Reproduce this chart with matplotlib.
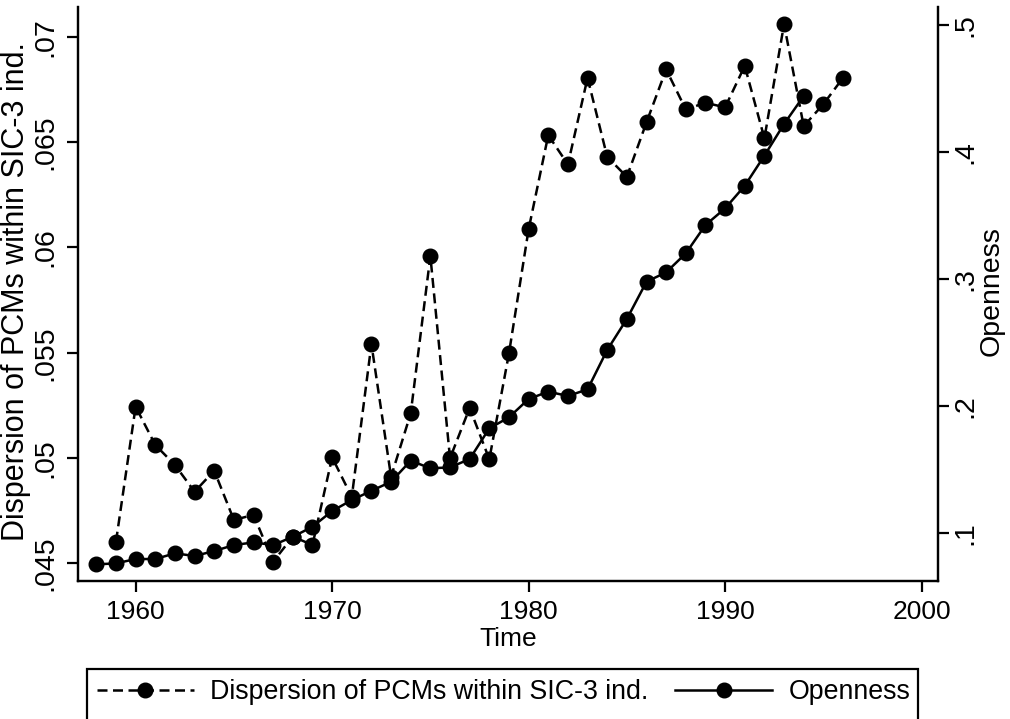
import matplotlib
matplotlib.use("Agg")
import matplotlib.pyplot as plt
from matplotlib.patches import Rectangle

plt.rcParams['font.family'] = ['Liberation Sans', 'DejaVu Sans']

# dispersion of PCMs (left axis), 1959-1996
disp_years = list(range(1959, 1997))
dispersion = [0.04603, 0.05244, 0.05062, 0.04967, 0.0484, 0.0494, 0.04706, 0.0473,
              0.04508, 0.04627, 0.04587, 0.05003, 0.04815, 0.05541, 0.04911, 0.05212,
              0.05959, 0.04999, 0.05238, 0.04994, 0.05497, 0.06086, 0.06533, 0.06394,
              0.06805, 0.0643, 0.06335, 0.06594, 0.06845, 0.06655, 0.06687, 0.06665,
              0.06862, 0.06518, 0.0706, 0.06576, 0.0668, 0.06805]

# openness (right axis), 1958-1994
open_years = list(range(1958, 1995))
openness = [0.0756, 0.0764, 0.0798, 0.0798, 0.0843, 0.0822, 0.0861, 0.0908,
            0.0929, 0.0908, 0.0973, 0.1052, 0.1176, 0.1262, 0.1335, 0.1406,
            0.1572, 0.1512, 0.1519, 0.1585, 0.1826, 0.1913, 0.2057, 0.2115,
            0.2081, 0.2133, 0.2443, 0.2687, 0.2980, 0.3054, 0.3203, 0.3426,
            0.3557, 0.3735, 0.3972, 0.4221, 0.4441]

x_ticks = [1960, 1970, 1980, 1990, 2000]
left_ticks = [0.045, 0.05, 0.055, 0.06, 0.065, 0.07]
left_labels = ['.045', '.05', '.055', '.06', '.065', '.07']
right_ticks = [0.1, 0.2, 0.3, 0.4, 0.5]
right_labels = ['.1', '.2', '.3', '.4', '.5']

fs = 19.3      # legend text
fs_rot = 20.5  # rotated tick labels

W, H = 1010, 719
fig = plt.figure(figsize=(W / 100, H / 100), dpi=100)
ax = fig.add_axes([0.0769, 0.1919, 0.8521, 0.7979])
ax2 = ax.twinx()

dash = (0, (4, 2.2))
l1, = ax.plot(disp_years, dispersion, color='black', linestyle=dash, lw=1.8,
              marker='o', markersize=10.5, label='Dispersion of PCMs within SIC-3 ind.')
l2, = ax2.plot(open_years, openness, color='black', linestyle='-', lw=1.8,
               marker='o', markersize=10.5, label='Openness')

ax.set_xlim(1957.05, 2000.85)
ax.set_ylim(0.04416, 0.0714)
ax2.set_ylim(0.0625, 0.5139)

ax.set_xticks(x_ticks)
ax.set_yticks(left_ticks)
ax.set_yticklabels(left_labels, rotation=90, va='center', fontsize=fs_rot)
ax2.set_yticks(right_ticks)
ax2.set_yticklabels(right_labels, rotation=90, va='center', fontsize=fs_rot)

for a in (ax, ax2):
    a.spines['top'].set_visible(False)
    for s in a.spines.values():
        s.set_linewidth(1.6)
    a.tick_params(length=8, width=1.6, pad=6)
ax.tick_params(axis='x', labelsize=19, pad=6)
ax2.tick_params(axis='y', pad=2.5)

ax.set_xlabel('Time', fontsize=19, labelpad=2)
ax.set_ylabel('Dispersion of PCMs within SIC-3 ind.', fontsize=22, va='center')
ax.yaxis.set_label_coords(-0.072, 0.505)
ax2.set_ylabel('Openness', fontsize=fs_rot, va='center', rotation=90)
ax2.yaxis.set_label_coords(1.0615, 0.505)

leg = fig.legend(handles=[l1, l2], loc='upper left', ncol=2,
                 bbox_to_anchor=(87 / W, 1 - 669 / H),
                 fontsize=fs, frameon=False, handlelength=3.6,
                 borderaxespad=0, borderpad=0.38, columnspacing=1.0,
                 handletextpad=0.62)

# Stata-style legend box, open at the bottom edge of the picture
fig.canvas.draw()
bb = leg.get_window_extent()
x0 = 87 / W
x1 = (bb.x1 - 3) / W
top = 1 - 669 / H
fig.add_artist(Rectangle((x0, -0.02), x1 - x0, top + 0.02, transform=fig.transFigure,
                         fill=False, edgecolor='black', linewidth=1.6))

fig.savefig('out.png', dpi=100)
